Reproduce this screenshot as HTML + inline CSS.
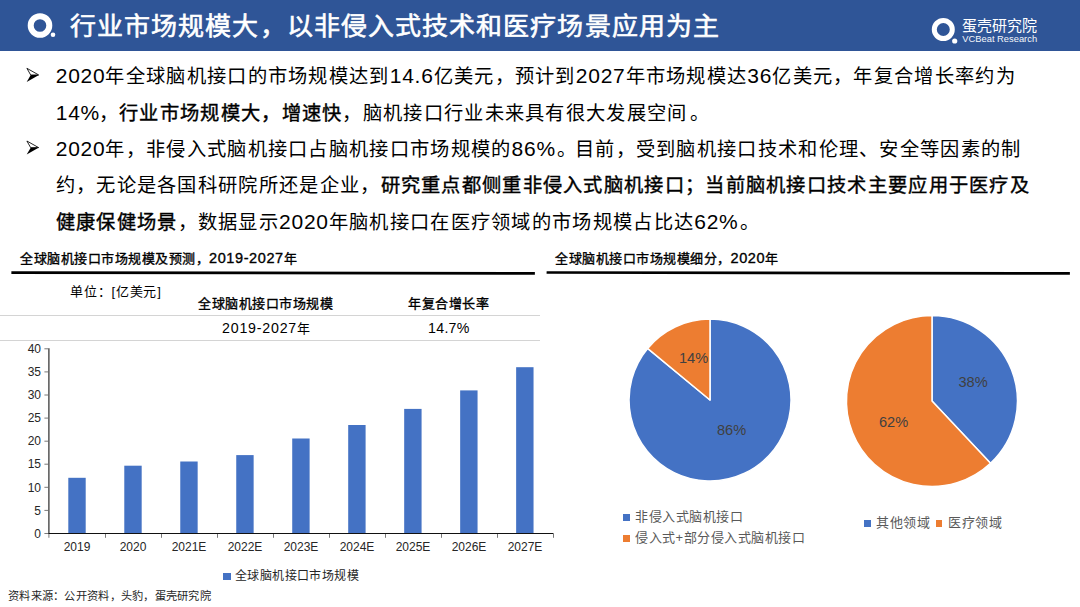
<!DOCTYPE html>
<html lang="zh-CN"><head><meta charset="utf-8">
<style>
*{margin:0;padding:0;box-sizing:border-box}
html,body{width:1080px;height:607px;overflow:hidden;background:#fff}
body{position:relative;font-family:"Liberation Sans",sans-serif;color:#000}
.a{position:absolute;white-space:nowrap}
#hdr{position:absolute;left:0;top:0;width:1080px;height:51px;background:#2F5597}
#title{left:70.2px;top:7.4px;font-size:25px;letter-spacing:1.04px;line-height:38px;color:#fff;font-weight:500;-webkit-text-stroke:0.6px #fff;transform:scaleX(1.04);transform-origin:0 0}
.ln{left:55.7px;font-size:19.25px;line-height:24px;color:#000;letter-spacing:1.3px}
.d{font-size:21px;letter-spacing:0.77px}
.p{font-size:21px;letter-spacing:-0.45px}
.q{position:relative;left:2.5px}
.b{font-weight:500;-webkit-text-stroke:0.4px #000}
.sec{font-size:13px;letter-spacing:0.5px;line-height:16px;font-weight:500;-webkit-text-stroke:0.35px #000}
.sd{font-size:14.5px;letter-spacing:0.6px}
.rule{position:absolute;height:2.6px;background:#000}
.gl{position:absolute;height:1px;background:#d4d4d4}
.t12{font-size:12px;line-height:14px}
.tk{font-size:12px;line-height:14px;color:#262626}
.bar{position:absolute;background:#4472C4;width:18px}
.lg{font-size:13px;letter-spacing:0.5px;line-height:16px;color:#595959}
.pl{font-size:14.6px;letter-spacing:0px;line-height:16px;color:#404040}
</style></head><body>
<div id="hdr"></div>
<svg class="a" style="left:0;top:0" width="80" height="51" viewBox="0 0 80 51">
<circle cx="40" cy="25.5" r="9.3" fill="none" stroke="#fff" stroke-width="6"/>
<circle cx="53" cy="34.8" r="2.3" fill="#fff"/>
</svg>
<div class="a" id="title">行业市场规模大，以非侵入式技术和医疗场景应用为主</div>

<!-- right logo -->
<svg class="a" style="left:920px;top:0" width="50" height="51" viewBox="0 0 50 51">
<circle cx="23.3" cy="29.5" r="9" fill="none" stroke="#fff" stroke-width="5"/>
<circle cx="34.7" cy="41" r="2.6" fill="#fff"/>
</svg>
<div class="a" style="left:962px;top:17px;font-size:15px;line-height:18px;color:#fff;letter-spacing:0px;font-weight:500">蛋壳研究院</div>
<div class="a" style="left:962.3px;top:34.2px;font-size:9.35px;line-height:10px;color:#f4f6fa">VCBeat Research</div>

<!-- bullets -->
<svg class="a" style="left:0;top:0" width="50" height="240" viewBox="0 0 50 240">
<g id="arr">
<path d="M26.9 68.3 L38.6 74.9 L30.7 75 Z" fill="none" stroke="#000" stroke-width="0.85" stroke-linejoin="round"/>
<path d="M30.7 75 L38.9 74.9 L26.7 81.9 Z" fill="#000"/>
</g>
<use href="#arr" y="72.7"/>
</svg>
<div class="a ln" style="top:64px"><span class="d">2020</span>年全球脑机接口的市场规模达到<span class="d">14.6</span>亿美元，预计到<span class="d">2027</span>年市场规模达<span class="d">36</span>亿美元，年复合增长率约为</div>
<div class="a ln" style="top:100.6px"><span class="d">14</span><span class="p">%</span>，<span class="b">行业市场规模大，增速快</span>，脑机接口行业未来具有很大发展空间<span class="q">。</span></div>
<div class="a ln" style="top:137.2px"><span class="d">2020</span>年，非侵入式脑机接口占脑机接口市场规模的<span class="d">86</span><span class="p">%</span><span class="q">。</span>目前，受到脑机接口技术和伦理、安全等因素的制</div>
<div class="a ln" style="top:173.8px">约，无论是各国科研院所还是企业，<span class="b">研究重点都侧重非侵入式脑机接口；当前脑机接口技术主要应用于医疗及</span></div>
<div class="a ln" style="top:210.4px"><span class="b">健康保健场景</span>，数据显示<span class="d">2020</span>年脑机接口在医疗领域的市场规模占比达<span class="d">62</span><span class="p">%</span><span class="q">。</span></div>

<!-- section headers -->
<div class="a sec" style="left:20px;top:250px">全球脑机接口市场规模及预测，<span class="sd">2019-2027</span>年</div>
<svg class="a" style="left:0;top:265px" width="1080" height="15" viewBox="0 265 1080 15"><line x1="11.4" y1="272.55" x2="534.9" y2="273.45" stroke="#000" stroke-width="2.7"/><line x1="546.6" y1="272.5" x2="1069.9" y2="273.4" stroke="#000" stroke-width="2.7"/></svg>
<div class="a sec" style="left:555px;top:250px">全球脑机接口市场规模细分，<span class="sd">2020</span>年</div>

<!-- table -->
<div class="a" style="left:70px;top:284px;font-size:13px;letter-spacing:0.8px;line-height:16px">单位：[亿美元]</div>
<div class="a sec" style="left:198px;top:296px">全球脑机接口市场规模</div>
<div class="a sec" style="left:408px;top:296px">年复合增长率</div>
<div class="gl" style="left:0;top:315px;width:540px"></div>
<div class="a" style="left:222px;top:320px;font-size:13px;letter-spacing:0.5px;line-height:16px"><span style="font-size:14.2px;letter-spacing:0.8px">2019-2027</span>年</div>
<div class="a" style="left:428px;top:320px;font-size:14.2px;letter-spacing:0.3px;line-height:16px">14.7%</div>
<div class="gl" style="left:0;top:340px;width:540px"></div>

<!-- bar chart -->
<svg class="a" style="left:0;top:340px" width="560" height="210" viewBox="0 340 560 210">

<g fill="#4472C4">
<rect x="68.3" y="477.8" width="17.4" height="55.7"/>
<rect x="124.28" y="465.7" width="17.4" height="67.8"/>
<rect x="180.26" y="461.5" width="17.4" height="72.0"/>
<rect x="236.24" y="455.1" width="17.4" height="78.4"/>
<rect x="292.22" y="438.5" width="17.4" height="95.0"/>
<rect x="348.2" y="425.0" width="17.4" height="108.5"/>
<rect x="404.18" y="408.9" width="17.4" height="124.6"/>
<rect x="460.16" y="390.4" width="17.4" height="143.1"/>
<rect x="516.14" y="367.2" width="17.4" height="166.3"/>
</g>
<g fill="none">
<line x1="48.9" y1="348.2" x2="48.9" y2="534" stroke="#2a2a2a" stroke-width="1.2"/>
<line x1="48.3" y1="533.45" x2="553.5" y2="533.45" stroke="#111" stroke-width="1.1"/>
<g stroke="#6a6a6a" stroke-width="0.9">
<line x1="44.4" y1="348.8" x2="48.3" y2="348.8"/>
<line x1="44.4" y1="371.9" x2="48.3" y2="371.9"/>
<line x1="44.4" y1="395.0" x2="48.3" y2="395.0"/>
<line x1="44.4" y1="418.1" x2="48.3" y2="418.1"/>
<line x1="44.4" y1="441.2" x2="48.3" y2="441.2"/>
<line x1="44.4" y1="464.2" x2="48.3" y2="464.2"/>
<line x1="44.4" y1="487.3" x2="48.3" y2="487.3"/>
<line x1="44.4" y1="510.4" x2="48.3" y2="510.4"/>
<line x1="44.4" y1="533.5" x2="48.3" y2="533.5"/>
<line x1="48.9" y1="534" x2="48.9" y2="537.8"/>
<line x1="105.5" y1="534" x2="105.5" y2="537.8"/>
<line x1="161.5" y1="534" x2="161.5" y2="537.8"/>
<line x1="217.5" y1="534" x2="217.5" y2="537.8"/>
<line x1="273.5" y1="534" x2="273.5" y2="537.8"/>
<line x1="329.5" y1="534" x2="329.5" y2="537.8"/>
<line x1="385.5" y1="534" x2="385.5" y2="537.8"/>
<line x1="441.5" y1="534" x2="441.5" y2="537.8"/>
<line x1="497.5" y1="534" x2="497.5" y2="537.8"/>
<line x1="553.5" y1="534" x2="553.5" y2="537.8"/>
</g></g>
</svg>
<div class="a tk" style="left:0;top:342px;width:41px;text-align:right">40</div>
<div class="a tk" style="left:0;top:365px;width:41px;text-align:right">35</div>
<div class="a tk" style="left:0;top:388px;width:41px;text-align:right">30</div>
<div class="a tk" style="left:0;top:411px;width:41px;text-align:right">25</div>
<div class="a tk" style="left:0;top:434px;width:41px;text-align:right">20</div>
<div class="a tk" style="left:0;top:457px;width:41px;text-align:right">15</div>
<div class="a tk" style="left:0;top:481px;width:41px;text-align:right">10</div>
<div class="a tk" style="left:0;top:504px;width:41px;text-align:right">5</div>
<div class="a tk" style="left:0;top:527px;width:41px;text-align:right">0</div>
<div class="a tk" style="left:49px;top:540px;width:56px;text-align:center">2019</div>
<div class="a tk" style="left:105px;top:540px;width:56px;text-align:center">2020</div>
<div class="a tk" style="left:161px;top:540px;width:56px;text-align:center">2021E</div>
<div class="a tk" style="left:217px;top:540px;width:56px;text-align:center">2022E</div>
<div class="a tk" style="left:273px;top:540px;width:56px;text-align:center">2023E</div>
<div class="a tk" style="left:329px;top:540px;width:56px;text-align:center">2024E</div>
<div class="a tk" style="left:385px;top:540px;width:56px;text-align:center">2025E</div>
<div class="a tk" style="left:441px;top:540px;width:56px;text-align:center">2026E</div>
<div class="a tk" style="left:497px;top:540px;width:56px;text-align:center">2027E</div>
<div class="a" style="left:223.1px;top:573px;width:7.5px;height:7.4px;background:#4472C4"></div>
<div class="a tk" style="left:235px;top:569px;letter-spacing:0.4px">全球脑机接口市场规模</div>
<div class="a" style="left:8px;top:589px;font-size:11.25px;letter-spacing:0.28px;line-height:14px;color:#262626">资料来源：公开资料，头豹，蛋壳研究院</div>

<!-- pies -->
<svg class="a" style="left:600px;top:300px" width="480" height="200" viewBox="600 300 480 200">
<g stroke="#fff" stroke-width="1.5" stroke-linejoin="round">
<path d="M710 400 L710 319 A81 81 0 1 1 647.6 348.4 Z" fill="#4472C4"/>
<path d="M710 400 L647.6 348.4 A81 81 0 0 1 710 319 Z" fill="#ED7D31"/>
<path d="M932 401 L932 315.5 A85.5 85.5 0 0 1 990.5 463.3 Z" fill="#4472C4"/>
<path d="M932 401 L990.5 463.3 A85.5 85.5 0 1 1 932 315.5 Z" fill="#ED7D31"/>
</g>
</svg>
<div class="a pl" style="left:679px;top:349.6px">14%</div>
<div class="a pl" style="left:717px;top:421.6px">86%</div>
<div class="a pl" style="left:958.5px;top:373.6px">38%</div>
<div class="a pl" style="left:879px;top:413.6px">62%</div>

<div class="a" style="left:623px;top:513.6px;width:7px;height:7px;background:#4472C4"></div>
<div class="a lg" style="left:635px;top:509px">非侵入式脑机接口</div>
<div class="a" style="left:623px;top:534.6px;width:7px;height:7px;background:#ED7D31"></div>
<div class="a lg" style="left:635px;top:530px">侵入式+部分侵入式脑机接口</div>

<div class="a" style="left:863.6px;top:519.8px;width:7px;height:6.8px;background:#4472C4"></div>
<div class="a lg" style="left:876px;top:515px">其他领域</div>
<div class="a" style="left:935.7px;top:519.8px;width:6.8px;height:6.8px;background:#ED7D31"></div>
<div class="a lg" style="left:948px;top:515px">医疗领域</div>
</body></html>
